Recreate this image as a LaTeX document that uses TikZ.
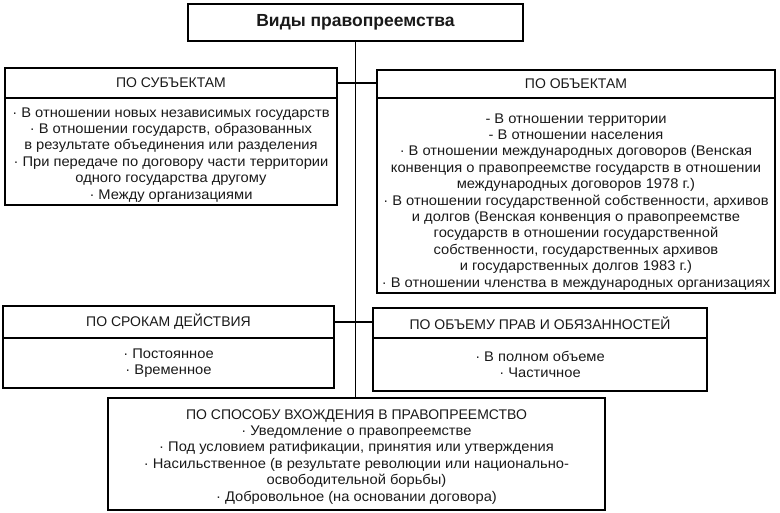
\documentclass[tikz,border=0pt]{standalone}
\usepackage{fontspec}
\setmainfont{Liberation Sans}
\newfontfamily\itemfont[FakeStretch=1.05]{Liberation Sans}
\usetikzlibrary{positioning}
\begin{document}
\begin{tikzpicture}[x=1pt,y=-1pt,
    box/.style={draw=black, line width=1.2pt, align=center, inner sep=0pt, outer sep=0pt,
      text=black!90, font=\itemfont\fontsize{14}{16.4}\selectfont},
    head/.style={box, font=\fontsize{14}{16.4}\selectfont},
    conn/.style={draw=black, line width=1.2pt}]
  \useasboundingbox (0,0) rectangle (780,512);

  \node[box, minimum width=335pt, minimum height=37pt, font=\fontsize{17.5}{20}\selectfont\bfseries] (title) at (355.5,22.5) {Виды правопреемства};

  % по субъектам
  \node[head, anchor=north west, minimum width=332pt, minimum height=30pt] (subjHead) at (5,68) {ПО СУБЪЕКТАМ};
  \node[box, below=0pt of subjHead, minimum width=332pt, minimum height=107pt] (subjBody) {%
    \rule{0pt}{16pt}· В отношении новых независимых государств\\
    · В отношении государств, образованных\\
    в результате объединения или разделения\\
    · При передаче по договору части территории\\
    одного государства другому\\
    · Между организациями};

  % по объектам
  \node[head, anchor=north west, minimum width=398pt, minimum height=28pt] (objHead) at (377,70) {ПО ОБЪЕКТАМ};
  \node[box, below=0pt of objHead, minimum width=398pt, minimum height=195pt] (objBody) {%
    \rule{0pt}{22pt}- В отношении территории\\
    - В отношении населения\\
    · В отношении международных договоров (Венская\\
    конвенция о правопреемстве государств в отношении\\
    международных договоров 1978 г.)\\
    · В отношении государственной собственности, архивов\\
    и долгов (Венская конвенция о правопреемстве\\
    государств в отношении государственной\\
    собственности, государственных архивов\\
    и государственных долгов 1983 г.)\\
    · В отношении членства в международных организациях};

  % по срокам и по объему
  \node[head, anchor=north west, minimum width=331pt, minimum height=32pt] (srokHead) at (3,306) {ПО СРОКАМ ДЕЙСТВИЯ};
  \node[box, below=0pt of srokHead, minimum width=331pt, minimum height=50pt] (srokBody) {%
    · Постоянное\\
    · Временное};
  \node[head, anchor=north west, minimum width=334pt, minimum height=30pt] (obemHead) at (373,308) {ПО ОБЪЕМУ ПРАВ И ОБЯЗАННОСТЕЙ};
  \node[box, below=0pt of obemHead, minimum width=334pt, minimum height=53pt] (obemBody) {%
    · В полном объеме\\
    · Частичное};

  % по способу вхождения
  \node[box, anchor=north west, minimum width=497pt, minimum height=112pt] (modeBox) at (108,398) {%
    \rule{0pt}{15pt}{\normalfont ПО СПОСОБУ ВХОЖДЕНИЯ В ПРАВОПРЕЕМСТВО}\\
    · Уведомление о правопреемстве\\
    · Под условием ратификации, принятия или утверждения\\
    · Насильственное (в результате революции или национально-\\
    освободительной борьбы)\\
    · Добровольное (на основании договора)};

  \draw[conn] (title.south) -- (title.south |- modeBox.north);
  \draw[conn] (subjHead.east) -- (subjHead.east -| objHead.west);
  \draw[conn] (srokHead.east) -- (srokHead.east -| obemHead.west);
\end{tikzpicture}
\end{document}
